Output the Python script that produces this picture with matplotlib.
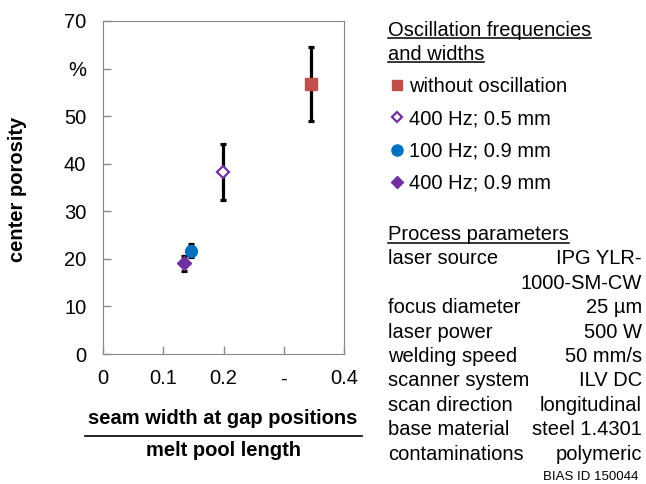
import matplotlib.pyplot as plt
from matplotlib.lines import Line2D

# measured values (center porosity in %, with error range)
labels = ['without oscillation', '400 Hz; 0.5 mm', '100 Hz; 0.9 mm', '400 Hz; 0.9 mm']
x_ratio = [0.345, 0.199, 0.146, 0.134]
porosity = [56.7, 38.2, 21.7, 19.1]
err_low = [7.7, 5.8, 1.4, 1.6]
err_high = [7.8, 5.9, 1.4, 1.4]

x_ticks = [0, 0.1, 0.2, 0.3, 0.4]
x_ticklabels = ['0', '0.1', '0.2', '-', '0.4']
y_ticks = [0, 10, 20, 30, 40, 50, 60, 70]
y_ticklabels = ['0', '10', '20', '30', '40', '50', '%', '70']

param_names = ['laser source', '', 'focus diameter', 'laser power', 'welding speed',
               'scanner system', 'scan direction', 'base material', 'contaminations']
param_values = ['IPG YLR-', '1000-SM-CW', '25 µm', '500 W', '50 mm/s',
                'ILV DC', 'longitudinal', 'steel 1.4301', 'polymeric']

colors = ['#C0504D', '#7030A0', '#0070C0', '#7030A0']
markers = ['s', 'D', 'o', 'D']
msizes = [8.5, 6.5, 8.5, 7]
edgew = [1, 1.6, 1, 1]
faces = ['#C0504D', 'white', '#0070C0', '#7030A0']
leg_sizes = [7, 5.5, 8, 6]

plt.rcParams['font.family'] = ['Liberation Sans', 'DejaVu Sans']

W, H = 646, 484
fig = plt.figure(figsize=(W / 100, H / 100), dpi=100)


def px(x, y):
    return x / W, 1 - y / H


ax = fig.add_axes([103 / W, 1 - 354 / H, 241 / W, 333 / H])
for i in range(len(labels)):
    ax.errorbar(x_ratio[i], porosity[i], yerr=[[err_low[i]], [err_high[i]]],
                fmt='none', ecolor='black', elinewidth=2.3, capsize=2.2, capthick=2.3, zorder=2)
    ax.plot(x_ratio[i], porosity[i], linestyle='none', marker=markers[i], markersize=msizes[i],
            markerfacecolor=faces[i], markeredgecolor=colors[i], markeredgewidth=edgew[i], zorder=3)

ax.set_xlim(0, 0.4)
ax.set_ylim(0, 70)
ax.set_xticks(x_ticks)
ax.set_xticklabels(x_ticklabels)
ax.set_yticks(y_ticks)
ax.set_yticklabels(y_ticklabels)
ax.tick_params(direction='in', length=6, width=1, color='#888888', labelsize=14.5, pad=12)
ax.tick_params(axis='x', pad=11)
for s in ax.spines.values():
    s.set_color('#888888')

fig.text(*px(18, 189), 'center porosity', rotation=90, ha='center', va='center',
         fontsize=14.5, fontweight='bold')
fig.text(*px(223, 418), 'seam width at gap positions', ha='center', va='center',
         fontsize=14.5, fontweight='bold')
fig.add_artist(Line2D([85 / W, 362 / W], [1 - 436 / H] * 2, color='black', lw=1.2))
fig.text(*px(223, 451), 'melt pool length', ha='center', va='center',
         fontsize=14.5, fontweight='bold')

# legend block
fs = 14.5
renderer = fig.canvas.get_renderer()


def underlined(x, y, s):
    t = fig.text(*px(x, y), s, ha='left', va='center', fontsize=fs)
    bb = t.get_window_extent(renderer=renderer)
    yl = y + 8
    fig.add_artist(Line2D([bb.x0 / W, bb.x1 / W], [1 - yl / H] * 2, color='black', lw=1.1))


underlined(388, 30, 'Oscillation frequencies')
underlined(388, 54, 'and widths')

handles = [Line2D([], [], linestyle='none', marker=markers[i], markersize=leg_sizes[i],
                  markerfacecolor=faces[i], markeredgecolor=colors[i], markeredgewidth=edgew[i])
           for i in range(len(labels))]
fig.legend(handles, labels, loc='upper left', bbox_to_anchor=px(390, 77), frameon=False,
           fontsize=fs, handlelength=0.7, handletextpad=0.25, labelspacing=0.66,
           borderpad=0, borderaxespad=0)

underlined(388, 235, 'Process parameters')
for i, (n, v) in enumerate(zip(param_names, param_values)):
    y = 259 + i * 24.4
    fig.text(*px(388, y), n, ha='left', va='center', fontsize=fs)
    fig.text(*px(642, y), v, ha='right', va='center', fontsize=fs)

fig.text(*px(638, 477), 'BIAS ID 150044', ha='right', va='center', fontsize=9.5)

fig.savefig('out.png', dpi=100)
